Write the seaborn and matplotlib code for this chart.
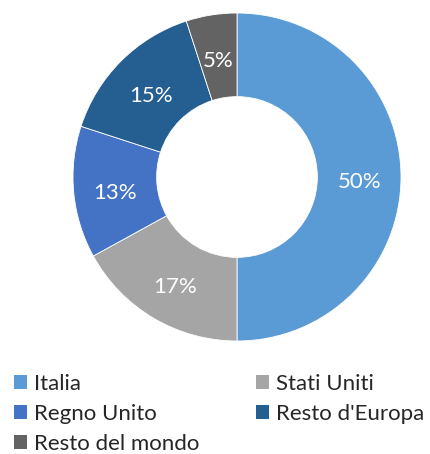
import matplotlib
matplotlib.use("Agg")
import matplotlib.pyplot as plt
from matplotlib.patches import Patch
import numpy as np
import seaborn as sns

categories = ["Italia", "Stati Uniti", "Regno Unito", "Resto d'Europa", "Resto del mondo"]
shares = [50, 17, 13, 15, 5]
colors = ["#5B9BD5", "#A5A5A5", "#4472C4", "#255E91", "#636363"]

sns.set_theme(style="white")
plt.rcParams["font.family"] = ["Lato", "DejaVu Sans"]

fig = plt.figure(figsize=(4.31, 4.54), dpi=100)
ax = fig.add_axes([73 / 431, 1 - 341 / 454, 328 / 431, 328 / 454])

outer = 1.0
ring = 0.51
wedges, texts = ax.pie(
    shares,
    colors=colors,
    startangle=90,
    counterclock=False,
    radius=outer,
    wedgeprops=dict(width=ring, edgecolor="white", linewidth=0.6),
)
ax.set_xlim(-1, 1)
ax.set_ylim(-1, 1)
ax.set_aspect("equal")

# percentage labels centred in the ring
mid_r = outer - ring / 2
for w, val in zip(wedges, shares):
    ang = np.deg2rad((w.theta1 + w.theta2) / 2)
    ax.annotate(f"{val}%", (mid_r * np.cos(ang), mid_r * np.sin(ang)),
                xytext=(0, -3.6), textcoords="offset points",
                ha="center", va="center", color="white", fontsize=16)

# legend in row-major order across two columns
order = [0, 2, 4, 1, 3]
handles = [Patch(facecolor=colors[i], edgecolor="none") for i in order]
labels = [categories[i] for i in order]
fig.legend(handles, labels, ncol=2, loc="upper left",
           bbox_to_anchor=(14 / 431, 1 - 374 / 454), frameon=False,
           fontsize=16, handlelength=0.59, handleheight=0.59,
           handletextpad=0.32, columnspacing=2.55, labelspacing=0.44,
           borderaxespad=0, borderpad=0)

fig.savefig("out.png", dpi=100)
